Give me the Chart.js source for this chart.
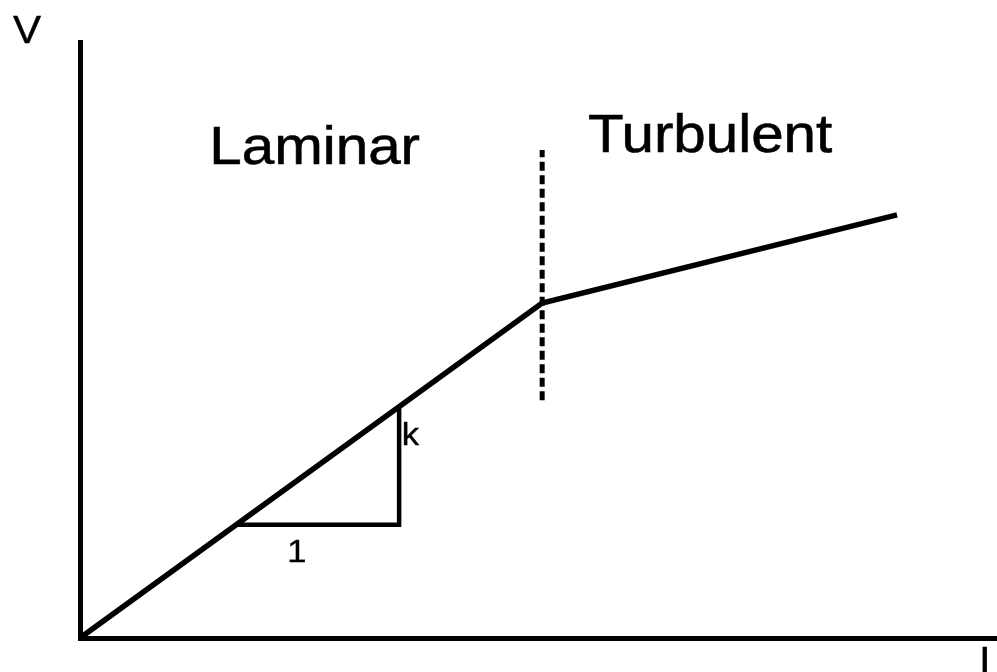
<!DOCTYPE html>
<html>
<head>
<meta charset="utf-8">
<script src="https://cdn.jsdelivr.net/npm/chart.js@4.4.1/dist/chart.umd.min.js"></script>
<style>
  html, body { margin: 0; padding: 0; background: #fff; }
  #wrap { width: 997px; height: 672px; overflow: hidden; }
</style>
</head>
<body>
<div id="wrap"><canvas id="chart" width="997" height="672"></canvas></div>
<script>
// ===== DATA =====
// current I (x) vs velocity V (y), arbitrary units
const flowI = [0, 5.04, 8.91];
const flowV = [0, 5.62, 7.10];

// laminar / turbulent transition marker
const transitionI = [5.04, 5.04];
const transitionV = [3.99, 8.19];

// slope triangle (run 1, rise k)
const slopeI = [1.71, 3.48, 3.48];
const slopeV = [1.90, 1.90, 3.86];

const axisLabels = ['I', 'V'];
const regionLabels = ['Laminar', 'Turbulent'];
const slopeLabels = ['1', 'k'];

const FONT = '"Liberation Sans", Arial, sans-serif';

function toPoints(xs, ys) {
  return xs.map((x, i) => ({ x: x, y: ys[i] }));
}

// draws text slightly stretched, like the original drawing
function stretchText(ctx, text, x, y, size) {
  ctx.save();
  ctx.translate(x, y);
  ctx.scale(1.08, 1);
  ctx.font = size + 'px ' + FONT;
  ctx.fillStyle = '#000';
  ctx.strokeStyle = '#000';
  ctx.lineWidth = size > 40 ? 0.6 : 0.4; // slightly heavier strokes
  ctx.textBaseline = 'alphabetic';
  ctx.textAlign = 'left';
  ctx.fillText(text, 0, 0);
  ctx.strokeText(text, 0, 0);
  ctx.restore();
}

// ===== LABELS PLUGIN =====
const labelPlugin = {
  id: 'labels',
  afterDraw(chart) {
    const { ctx, scales: { x, y } } = chart;
    // region names
    stretchText(ctx, regionLabels[0], x.getPixelForValue(1.41), y.getPixelForValue(7.95), 54);
    stretchText(ctx, regionLabels[1], x.getPixelForValue(5.54), y.getPixelForValue(8.15), 54);
    // slope triangle
    stretchText(ctx, slopeLabels[0], x.getPixelForValue(2.26), y.getPixelForValue(1.28), 32);
    stretchText(ctx, slopeLabels[1], x.getPixelForValue(3.51), y.getPixelForValue(3.24), 32);
    // axis names
    stretchText(ctx, axisLabels[1], 13, 43, 39);
    stretchText(ctx, axisLabels[0], 979, 674, 39);
  }
};

// ===== CHART =====
const ctx = document.getElementById('chart');
new Chart(ctx, {
  type: 'scatter',
  data: {
    datasets: [
      {
        data: toPoints(flowI, flowV),
        showLine: true,
        borderColor: '#000',
        borderWidth: 5.5,
        pointRadius: 0,
        borderJoinStyle: 'miter'
      },
      {
        data: toPoints(transitionI, transitionV),
        showLine: true,
        borderColor: '#000',
        borderWidth: 5,
        borderDash: [9, 4.5],
        pointRadius: 0
      },
      {
        data: toPoints(slopeI, slopeV),
        showLine: true,
        borderColor: '#000',
        borderWidth: 4.5,
        pointRadius: 0,
        borderJoinStyle: 'miter'
      }
    ]
  },
  options: {
    responsive: false,
    animation: false,
    devicePixelRatio: 1,
    layout: { padding: { left: 80, top: 42, right: 0, bottom: 34 } },
    plugins: {
      legend: { display: false },
      tooltip: { enabled: false }
    },
    scales: {
      x: {
        type: 'linear',
        min: 0,
        max: 10,
        grid: { display: false, drawTicks: false },
        ticks: { display: false },
        border: { display: true, color: '#000', width: 5 }
      },
      y: {
        type: 'linear',
        min: 0,
        max: 10,
        grid: { display: false, drawTicks: false },
        ticks: { display: false },
        border: { display: true, color: '#000', width: 5 }
      }
    }
  },
  plugins: [labelPlugin]
});
</script>
</body>
</html>
